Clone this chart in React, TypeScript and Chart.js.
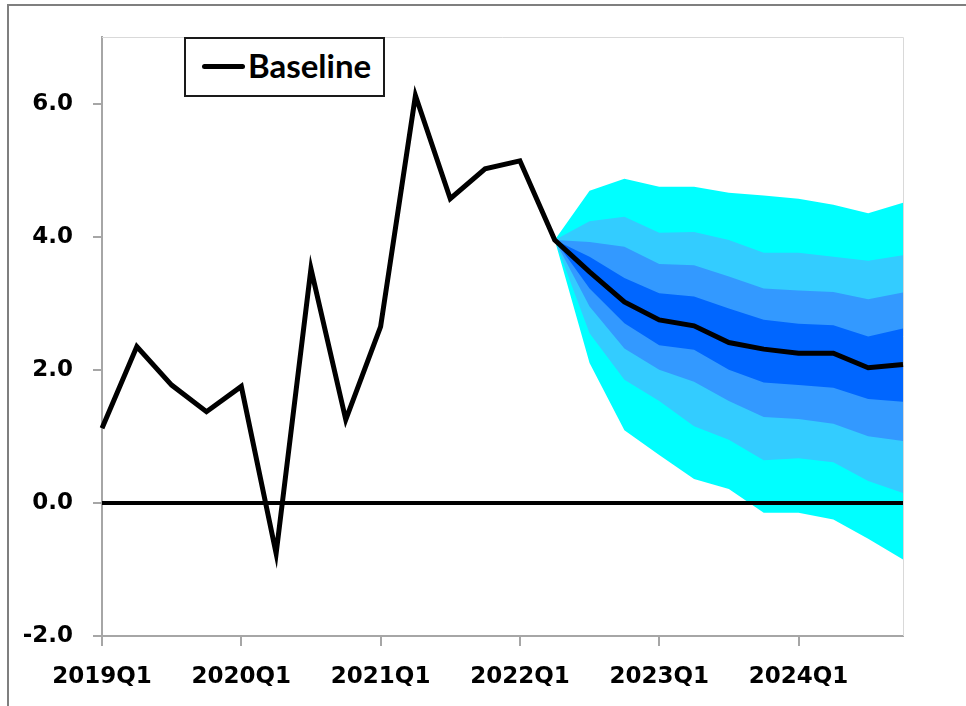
import React, { useEffect, useRef } from "react";
import { Chart, registerables } from "chart.js";

Chart.register(...registerables);

const quarters = [
  "2019Q1", "2019Q2", "2019Q3", "2019Q4",
  "2020Q1", "2020Q2", "2020Q3", "2020Q4",
  "2021Q1", "2021Q2", "2021Q3", "2021Q4",
  "2022Q1", "2022Q2", "2022Q3", "2022Q4",
  "2023Q1", "2023Q2", "2023Q3", "2023Q4",
  "2024Q1", "2024Q2", "2024Q3", "2024Q4",
];

const yTickValues = [-2, 0, 2, 4, 6];

const baseline = [
  1.12, 2.35, 1.77, 1.37, 1.75, -0.76, 3.52, 1.25, 2.65, 6.12, 4.57, 5.02,
  5.14, 3.95, 3.47, 3.02, 2.75, 2.66, 2.41, 2.31, 2.25, 2.25, 2.03, 2.08,
];

const zeroLine = [
  0, 0, 0, 0, 0, 0, 0, 0, 0, 0, 0, 0,
  0, 0, 0, 0, 0, 0, 0, 0, 0, 0, 0, 0,
];

const N = null;
const cyanUpper = [N, N, N, N, N, N, N, N, N, N, N, N, N,
  3.95, 4.69, 4.87, 4.75, 4.75, 4.66, 4.62, 4.57, 4.48, 4.35, 4.51];
const lightUpper = [N, N, N, N, N, N, N, N, N, N, N, N, N,
  3.95, 4.23, 4.30, 4.06, 4.07, 3.95, 3.76, 3.76, 3.70, 3.64, 3.72];
const midUpper = [N, N, N, N, N, N, N, N, N, N, N, N, N,
  3.95, 3.92, 3.85, 3.59, 3.57, 3.40, 3.22, 3.19, 3.17, 3.06, 3.16];
const darkUpper = [N, N, N, N, N, N, N, N, N, N, N, N, N,
  3.95, 3.70, 3.38, 3.15, 3.10, 2.92, 2.75, 2.69, 2.67, 2.50, 2.62];
const darkLower = [N, N, N, N, N, N, N, N, N, N, N, N, N,
  3.95, 3.22, 2.70, 2.37, 2.30, 2.00, 1.81, 1.77, 1.73, 1.56, 1.52];
const midLower = [N, N, N, N, N, N, N, N, N, N, N, N, N,
  3.95, 2.95, 2.32, 2.00, 1.82, 1.53, 1.29, 1.26, 1.19, 1.00, 0.93];
const lightLower = [N, N, N, N, N, N, N, N, N, N, N, N, N,
  3.95, 2.55, 1.85, 1.53, 1.15, 0.95, 0.64, 0.67, 0.61, 0.33, 0.15];
const cyanLower = [N, N, N, N, N, N, N, N, N, N, N, N, N,
  3.95, 2.10, 1.09, 0.72, 0.36, 0.21, -0.15, -0.15, -0.25, -0.54, -0.85];

const COLOR_CYAN = "#00FFFF";
const COLOR_LIGHT = "#33CCFF";
const COLOR_MID = "#3399FF";
const COLOR_DARK = "#0066FF";

const AXIS_FONT = { family: "'DejaVu Sans', sans-serif", weight: "bold" as const, size: 23 };

const plotFrame = {
  id: "plotFrame",
  beforeDatasetsDraw(chart: any) {
    const { ctx, chartArea: a } = chart;
    ctx.save();
    ctx.strokeStyle = "#d9d9d9";
    ctx.lineWidth = 1;
    ctx.beginPath();
    ctx.moveTo(a.left, a.top + 0.5);
    ctx.lineTo(a.right + 0.5, a.top + 0.5);
    ctx.lineTo(a.right + 0.5, a.bottom);
    ctx.stroke();
    ctx.restore();
  },
};

function band(label: string, data: (number | null)[], color: string, fillTo: number | false) {
  return {
    label,
    data,
    borderColor: "rgba(0,0,0,0)",
    backgroundColor: color,
    borderWidth: 0,
    pointRadius: 0,
    pointHoverRadius: 0,
    fill: fillTo === false ? false : fillTo,
    spanGaps: false,
  };
}

export default function App() {
  const canvasRef = useRef<HTMLCanvasElement | null>(null);

  useEffect(() => {
    if (!canvasRef.current) return;
    const chart = new Chart(canvasRef.current, {
      type: "line",
      data: {
        labels: quarters,
        datasets: [
          {
            label: "Baseline",
            data: baseline,
            borderColor: "#000000",
            backgroundColor: "#000000",
            borderWidth: 5,
            borderJoinStyle: "miter",
            pointRadius: 0,
            pointHoverRadius: 0,
            fill: false,
          },
          {
            label: "Zero",
            data: zeroLine,
            borderColor: "#000000",
            borderWidth: 4,
            pointRadius: 0,
            pointHoverRadius: 0,
            fill: false,
          },
          band("Dark upper", darkUpper, COLOR_DARK, 3),
          band("Dark lower", darkLower, COLOR_DARK, false),
          band("Mid upper", midUpper, COLOR_MID, 5),
          band("Mid lower", midLower, COLOR_MID, false),
          band("Light upper", lightUpper, COLOR_LIGHT, 7),
          band("Light lower", lightLower, COLOR_LIGHT, false),
          band("Cyan upper", cyanUpper, COLOR_CYAN, 9),
          band("Cyan lower", cyanLower, COLOR_CYAN, false),
        ] as any,
      },
      options: {
        animation: false,
        responsive: false,
        devicePixelRatio: 1,
        layout: { padding: { left: 0, top: 37, right: 63, bottom: 0 } },
        plugins: {
          legend: { display: false },
          tooltip: { enabled: false },
          filler: { propagate: false },
        },
        elements: { line: { tension: 0 }, point: { radius: 0 } },
        scales: {
          x: {
            type: "category",
            offset: false,
            grid: {
              display: true,
              drawOnChartArea: false,
              drawTicks: true,
              tickLength: 10,
              color: "#a6a6a6",
              lineWidth: 2,
            },
            border: { display: true, color: "#a6a6a6", width: 2 },
            ticks: {
              autoSkip: false,
              maxRotation: 0,
              minRotation: 0,
              padding: 17,
              color: "#000000",
              font: AXIS_FONT,
              callback: (v: any) => quarters[v as number],
            },
            afterBuildTicks: (scale: any) => {
              scale.ticks = scale.ticks.filter((t: any) => quarters[t.value].endsWith("Q1"));
            },
            afterFit: (scale: any) => {
              scale.height = 70;
            },
          },
          y: {
            type: "linear",
            min: -2,
            max: 7,
            grid: {
              display: true,
              drawOnChartArea: false,
              drawTicks: true,
              tickLength: 9,
              color: "#a6a6a6",
              lineWidth: 2,
            },
            border: { display: true, color: "#a6a6a6", width: 2 },
            ticks: {
              padding: 20,
              color: "#000000",
              font: AXIS_FONT,
              callback: (v: any) => Number(v).toFixed(1),
            },
            afterBuildTicks: (scale: any) => {
              scale.ticks = yTickValues.map((v) => ({ value: v }));
            },
            afterFit: (scale: any) => {
              scale.width = 102;
            },
          },
        },
      } as any,
      plugins: [plotFrame],
    });
    return () => chart.destroy();
  }, []);

  return (
    <div
      style={{
        position: "fixed",
        left: 0,
        top: 0,
        width: 966,
        height: 706,
        overflow: "hidden",
        background: "#ffffff",
      }}
    >
      <div
        style={{
          position: "absolute",
          left: 7,
          top: 4,
          width: 2000,
          height: 2000,
          border: "2px solid #7f7f7f",
        }}
      />
      <canvas
        ref={canvasRef}
        width={966}
        height={706}
        style={{ position: "absolute", left: 0, top: 0, width: 966, height: 706 }}
      />
      <div
        style={{
          position: "absolute",
          left: 184,
          top: 37,
          width: 201,
          height: 60,
          boxSizing: "border-box",
          border: "2px solid #1a1a1a",
          background: "#ffffff",
        }}
      />
      <div
        style={{
          position: "absolute",
          left: 202,
          top: 64,
          width: 43,
          height: 5,
          borderRadius: 2.5,
          background: "#000000",
        }}
      />
      <div
        style={{
          position: "absolute",
          left: 248,
          top: 49,
          fontFamily: "Lato, 'Noto Sans', sans-serif",
          fontWeight: 700,
          fontSize: 33,
          lineHeight: "33px",
          color: "#000000",
          whiteSpace: "nowrap",
        }}
      >
        Baseline
      </div>
    </div>
  );
}
